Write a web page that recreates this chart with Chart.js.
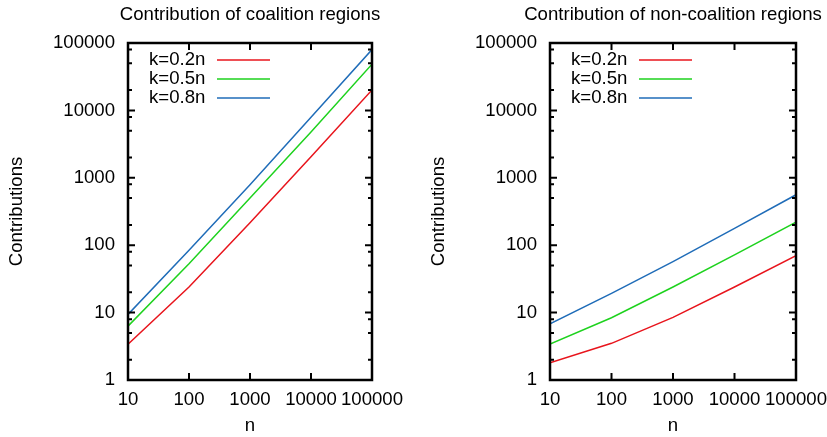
<!DOCTYPE html>
<html>
<head>
<meta charset="utf-8">
<script src="https://cdn.jsdelivr.net/npm/chart.js@4.4.1/dist/chart.umd.min.js"></script>
<style>
  html, body { margin: 0; padding: 0; background: #ffffff; overflow: hidden; }
  #wrap { position: relative; width: 827px; height: 437px; overflow: hidden; }
  #c1 { position: absolute; left: 0; top: 0; }
  #c2 { position: absolute; left: 414px; top: 0; }
</style>
</head>
<body>
<div id="wrap">
  <canvas id="c1" width="414" height="437"></canvas>
  <canvas id="c2" width="413" height="437"></canvas>
</div>
<script>
// ---- data ----
const nValues = [10, 100, 1000, 10000, 100000];
const seriesLabels = ['k=0.2n', 'k=0.5n', 'k=0.8n'];

const coalitionK02 = [3.4, 24, 215, 2050, 20100];
const coalitionK05 = [6.3, 53, 500, 4800, 48500];
const coalitionK08 = [9.4, 84, 790, 7900, 80000];

const nonCoalitionK02 = [1.8, 3.5, 8.5, 24, 70];
const nonCoalitionK05 = [3.4, 8.4, 24, 72, 220];
const nonCoalitionK08 = [6.8, 19.3, 57, 178, 560];

const xTickValues = [10, 100, 1000, 10000, 100000];
const yTickValues = [1, 10, 100, 1000, 10000, 100000];
const yMinorFactors = [2, 5, 8];

const titles = ['Contribution of coalition regions', 'Contribution of non-coalition regions'];
const colors = ['#e8141c', '#1ed21e', '#1f6cb8'];
const FONT = "'Liberation Sans', Arial, Helvetica, sans-serif";
const FS = 18.6;

function pts(ys) { return nValues.map((n, i) => ({ x: n, y: ys[i] })); }

const framePlugin = {
  id: 'frame',
  afterDatasetsDraw(chart, args, opts) {
    const ctx = chart.ctx;
    const a = chart.chartArea;
    const xs = chart.scales.x, ys = chart.scales.y;
    ctx.save();
    ctx.strokeStyle = '#000';
    // ticks (inward, mirrored)
    ctx.lineWidth = 2;
    ctx.beginPath();
    xTickValues.forEach(v => {
      const px = xs.getPixelForValue(v);
      ctx.moveTo(px, a.bottom); ctx.lineTo(px, a.bottom - 7);
      ctx.moveTo(px, a.top); ctx.lineTo(px, a.top + 7);
    });
    yTickValues.forEach(v => {
      const py = ys.getPixelForValue(v);
      ctx.moveTo(a.left, py); ctx.lineTo(a.left + 7, py);
      ctx.moveTo(a.right, py); ctx.lineTo(a.right - 7, py);
      if (v < 100000) {
        yMinorFactors.forEach(f => {
          const pm = ys.getPixelForValue(v * f);
          ctx.moveTo(a.left, pm); ctx.lineTo(a.left + 4, pm);
          ctx.moveTo(a.right, pm); ctx.lineTo(a.right - 4, pm);
        });
      }
    });
    ctx.stroke();
    // border box
    ctx.lineWidth = 2.5;
    ctx.strokeRect(a.left, a.top, a.right - a.left, a.bottom - a.top);
    // key
    ctx.font = FS + 'px ' + FONT;
    ctx.fillStyle = '#000';
    ctx.textBaseline = 'middle';
    ctx.textAlign = 'left';
    chart.data.datasets.forEach((ds, i) => {
      const y = a.top + 17 + i * 19;
      ctx.fillText(ds.label, a.left + 21, y);
      ctx.strokeStyle = ds.borderColor;
      ctx.lineWidth = 1.5;
      ctx.beginPath();
      ctx.moveTo(a.left + 89, y);
      ctx.lineTo(a.left + 142, y);
      ctx.stroke();
    });
    // title centred over the plot
    ctx.fillStyle = '#000';
    ctx.textAlign = 'center';
    ctx.font = FS + 'px ' + FONT;
    ctx.fillText(opts.text, (a.left + a.right) / 2, 15);
    ctx.restore();
  }
};

function makeChart(canvasId, data, title, leftWidth, rightPad, yTitlePad) {
  return new Chart(document.getElementById(canvasId), {
    type: 'line',
    data: {
      datasets: data.map((d, i) => ({
        label: seriesLabels[i],
        data: pts(d),
        borderColor: colors[i],
        backgroundColor: colors[i],
        borderWidth: 1.5,
        pointRadius: 0,
        tension: 0,
        fill: false
      }))
    },
    options: {
      responsive: false,
      animation: false,
      devicePixelRatio: 1,
      layout: { padding: { left: 0, right: rightPad, top: 43, bottom: 0 } },
      plugins: {
        legend: { display: false },
        title: { display: false },
        tooltip: { enabled: false },
        frame: { text: title }
      },
      scales: {
        x: {
          type: 'logarithmic',
          min: 10, max: 100000,
          afterBuildTicks: s => { s.ticks = xTickValues.map(v => ({ value: v })); },
          afterFit: s => { s.height = 57; s.paddingLeft = 0; s.paddingRight = 0; },
          grid: { display: false, drawTicks: false },
          border: { display: false },
          ticks: {
            autoSkip: false, maxRotation: 0, minRotation: 0, padding: 9,
            color: '#000', font: { family: FONT, size: FS },
            callback: v => String(v)
          },
          title: { display: true, text: 'n', color: '#000', font: { family: FONT, size: FS, lineHeight: 1.2 }, padding: { top: 0, bottom: 0 } }
        },
        y: {
          type: 'logarithmic',
          min: 1, max: 100000,
          afterBuildTicks: s => { s.ticks = yTickValues.map(v => ({ value: v })); },
          afterFit: s => { s.width = leftWidth; s.paddingTop = 0; s.paddingBottom = 0; },
          grid: { display: false, drawTicks: false },
          border: { display: false },
          ticks: {
            autoSkip: false, padding: 13,
            color: '#000', font: { family: FONT, size: FS },
            callback: v => String(v)
          },
          title: { display: true, text: 'Contributions', color: '#000', font: { family: FONT, size: FS, lineHeight: 1.2 }, padding: { top: yTitlePad, bottom: 0 } }
        }
      }
    },
    plugins: [framePlugin]
  });
}

makeChart('c1', [coalitionK02, coalitionK05, coalitionK08], titles[0], 128, 42, 6);
makeChart('c2', [nonCoalitionK02, nonCoalitionK05, nonCoalitionK08], titles[1], 136, 31, 14);
</script>
</body>
</html>
